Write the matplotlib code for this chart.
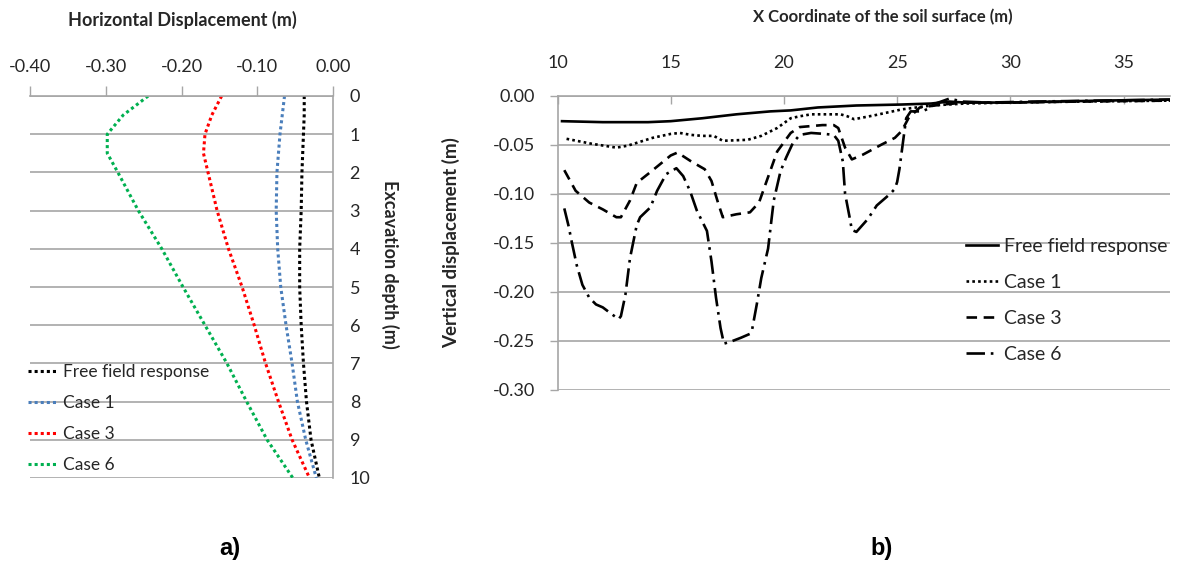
import matplotlib
matplotlib.use("Agg")
import matplotlib.pyplot as plt

# ---------------- data: panel a) ----------------
depth = [0, 0.5, 1, 1.5, 2, 3, 4, 5, 6, 7, 8, 9, 10]
hd_free = [-0.038, -0.038, -0.039, -0.040, -0.041, -0.042, -0.044, -0.044, -0.042, -0.039, -0.035, -0.029, -0.018]
hd_case1 = [-0.064, -0.067, -0.070, -0.072, -0.074, -0.075, -0.073, -0.069, -0.062, -0.054, -0.047, -0.036, -0.022]
hd_case3 = [-0.147, -0.160, -0.169, -0.171, -0.165, -0.153, -0.138, -0.120, -0.104, -0.089, -0.072, -0.054, -0.031]
hd_case6 = [-0.244, -0.277, -0.298, -0.298, -0.284, -0.257, -0.226, -0.198, -0.169, -0.140, -0.114, -0.087, -0.053]
a_xticks = [-0.40, -0.30, -0.20, -0.10, 0.00]
a_yticks = list(range(0, 11))

# ---------------- data: panel b) ----------------
x_ff = [10.2, 12, 14, 15, 16.4, 17.9, 19.4, 20.3, 21.5, 23.2, 25.2, 26.5, 27.3, 28, 30, 32, 34, 37.05]
y_ff = [-0.026, -0.027, -0.027, -0.026, -0.023, -0.019, -0.016, -0.015, -0.012, -0.010,
        -0.009, -0.008, -0.006, -0.007, -0.007, -0.006, -0.005, -0.004]

x_c1 = [10.4, 11.5, 12.6, 13.1, 14.2, 15.0, 15.4, 15.9, 16.4, 16.9, 17.3, 18.4, 19.0, 19.7,
        20.3, 20.7, 21.2, 22.5, 22.8, 23.1, 24.0, 25.2, 26.5, 28, 30, 33, 37.05]
y_c1 = [-0.044, -0.049, -0.053, -0.051, -0.043, -0.039, -0.038, -0.040, -0.041, -0.041,
        -0.046, -0.045, -0.041, -0.033, -0.023, -0.021, -0.019, -0.019, -0.021, -0.024,
        -0.020, -0.014, -0.010, -0.008, -0.007, -0.006, -0.005]

x_c3 = [10.3, 10.8, 11.4, 12.0, 12.6, 12.8, 13.2, 13.5, 14.1, 15.0, 15.3, 15.9, 16.5, 16.8,
        17.1, 17.3, 17.9, 18.5, 18.9, 19.3, 19.7, 20.3, 20.7, 21.7, 22.2, 22.4, 22.7, 23.0,
        23.5, 24.3, 24.9, 25.2, 25.5, 26.0, 27.0, 28, 30, 33, 37.05]
y_c3 = [-0.076, -0.097, -0.109, -0.116, -0.124, -0.124, -0.107, -0.089, -0.078, -0.061,
        -0.058, -0.067, -0.075, -0.087, -0.110, -0.124, -0.121, -0.119, -0.109, -0.083,
        -0.057, -0.038, -0.032, -0.030, -0.030, -0.033, -0.053, -0.065, -0.060, -0.050,
        -0.043, -0.036, -0.023, -0.012, -0.009, -0.007, -0.007, -0.006, -0.005]

x_c6 = [10.3, 10.5, 10.6, 10.85, 11.1, 11.4, 11.7, 12.0, 12.4, 12.7, 12.8, 13.0, 13.2, 13.5,
        13.65, 14.1, 14.4, 14.8, 15.25, 15.55, 15.85, 16.15, 16.6, 16.8, 17.0, 17.2, 17.35,
        17.65, 18.1, 18.5, 18.6, 18.8, 19.0, 19.3, 19.55, 19.85, 20.1, 20.4, 20.7, 21.2, 21.8,
        22.2, 22.4, 22.6, 22.7, 22.9, 23.0, 23.2, 23.7, 24.1, 24.7, 24.9, 25.0, 25.1, 25.3,
        25.4, 25.6, 26.1, 26.4, 26.7, 27.3, 27.9, 29, 31, 34, 37.05]
y_c6 = [-0.115, -0.134, -0.146, -0.173, -0.193, -0.206, -0.213, -0.216, -0.223, -0.228,
        -0.225, -0.203, -0.166, -0.132, -0.124, -0.114, -0.097, -0.080, -0.074, -0.082,
        -0.097, -0.117, -0.138, -0.169, -0.206, -0.237, -0.253, -0.251, -0.247, -0.243,
        -0.238, -0.213, -0.186, -0.156, -0.107, -0.077, -0.063, -0.048, -0.040, -0.038,
        -0.039, -0.040, -0.046, -0.067, -0.100, -0.124, -0.137, -0.139, -0.126, -0.112,
        -0.100, -0.095, -0.088, -0.075, -0.040, -0.023, -0.016, -0.016, -0.013, -0.008,
        -0.003, -0.006, -0.007, -0.006, -0.005, -0.004]
b_xticks = [10, 15, 20, 25, 30, 35]
b_yticks = [0.00, -0.05, -0.10, -0.15, -0.20, -0.25, -0.30]

labels = ["Free field response", "Case 1", "Case 3", "Case 6"]

# ---------------- figure ----------------
W, H = 1178, 568
plt.rcParams['font.family'] = ['Lato', 'DejaVu Sans']
fig = plt.figure(figsize=(W / 100, H / 100), dpi=100)
fig.patch.set_facecolor('white')

def fx(px):
    return px / W

def fy(py):
    return 1 - py / H

GRID = '#a6a6a6'
TXT = '#262626'

# ---------- panel a ----------
axA = fig.add_axes([fx(30), fy(478), fx(333) - fx(30), fy(96) - fy(478)])
axA.plot(hd_free, depth, color='black', lw=2.2, ls=(0, (1, 1)), label=labels[0])
axA.plot(hd_case1, depth, color='#4a7ebb', lw=2.2, ls=(0, (1, 1)), label=labels[1])
axA.plot(hd_case3, depth, color='#ff0000', lw=2.2, ls=(0, (1, 1)), label=labels[2])
axA.plot(hd_case6, depth, color='#00b050', lw=2.2, ls=(0, (1, 1)), label=labels[3])
axA.set_xlim(-0.40, 0.00)
axA.set_ylim(10, 0)
axA.set_xticks(a_xticks)
axA.set_xticklabels([f"{v:.2f}" for v in a_xticks])
axA.set_yticks(a_yticks)
axA.xaxis.tick_top()
axA.yaxis.tick_right()
axA.tick_params(axis='x', direction='out', length=7, width=1, color=GRID, pad=8,
                labelsize=13, labelcolor=TXT)
axA.tick_params(axis='y', length=0, pad=12, labelsize=13, labelcolor=TXT)
for s in ['left', 'bottom']:
    axA.spines[s].set_visible(False)
for s in ['top', 'right']:
    axA.spines[s].set_color(GRID)
    axA.spines[s].set_linewidth(1.2)
axA.yaxis.grid(True, color=GRID, lw=1.2)
axA.set_axisbelow(True)
axA.set_facecolor('none')
legA = axA.legend(loc='upper left', bbox_to_anchor=(fx(28), fy(364)),
                  bbox_transform=fig.transFigure, frameon=False, fontsize=12.5,
                  handlelength=1.7, handletextpad=0.3, labelspacing=0.86, borderpad=0,
                  borderaxespad=0)
for t in legA.get_texts():
    t.set_color(TXT)

fig.text(fx(182), fy(20), "Horizontal Displacement (m)", ha='center', va='center',
         fontsize=13, fontweight='bold', color=TXT)
fig.text(fx(390), fy(264), "Excavation depth (m)", ha='center', va='center',
         rotation=270, fontsize=13, fontweight='bold', color=TXT)

# ---------- panel b ----------
axB = fig.add_axes([fx(557.5), fy(389.7), fx(1170) - fx(557.5), fy(95.7) - fy(389.7)])
axB.plot(x_ff, y_ff, color='black', lw=1.9, ls='-', label=labels[0])
axB.plot(x_c1, y_c1, color='black', lw=1.9, ls=(0, (1, 1.2)), label=labels[1])
axB.plot(x_c3, y_c3, color='black', lw=1.9, ls=(0, (4, 2.5)), label=labels[2])
axB.plot(x_c6, y_c6, color='black', lw=1.9, ls=(0, (7, 2.2, 1, 2.2)), label=labels[3])
axB.set_xlim(10, 37.05)
axB.set_ylim(-0.30, 0.00)
axB.set_xticks(b_xticks)
axB.set_yticks(b_yticks)
axB.set_yticklabels([f"{v:.2f}" for v in b_yticks])
axB.xaxis.tick_top()
axB.tick_params(axis='x', direction='in', length=6, width=1, color=GRID, pad=18,
                labelsize=13, labelcolor=TXT)
axB.tick_params(axis='y', direction='out', length=6, width=1, color=GRID, pad=10,
                labelsize=13, labelcolor=TXT)
for s in ['right', 'bottom']:
    axB.spines[s].set_visible(False)
for s in ['top', 'left']:
    axB.spines[s].set_color(GRID)
    axB.spines[s].set_linewidth(1.2)
axB.yaxis.grid(True, color=GRID, lw=1.2)
axB.set_axisbelow(True)
axB.set_facecolor('none')
legB = axB.legend(loc='upper left', bbox_to_anchor=(fx(966), fy(238)),
                  bbox_transform=fig.transFigure, frameon=False, fontsize=14,
                  handlelength=1.65, handletextpad=0.3, labelspacing=0.97, borderpad=0,
                  borderaxespad=0)
for t in legB.get_texts():
    t.set_color(TXT)

fig.text(fx(883), fy(17), "X Coordinate of the soil surface (m)", ha='center', va='center',
         fontsize=12, fontweight='bold', color=TXT)
fig.text(fx(451), fy(243), "Vertical displacement (m)", ha='center', va='center',
         rotation=90, fontsize=13.5, fontweight='bold', color=TXT)

# ---------- panel letters ----------
fig.text(fx(230), fy(549), "a)", ha='center', va='center', fontsize=17,
         fontweight='bold', family=['Liberation Sans', 'DejaVu Sans'], color='black')
fig.text(fx(882), fy(549), "b)", ha='center', va='center', fontsize=17,
         fontweight='bold', family=['Liberation Sans', 'DejaVu Sans'], color='black')

fig.savefig("out.png", dpi=100, facecolor='white')
